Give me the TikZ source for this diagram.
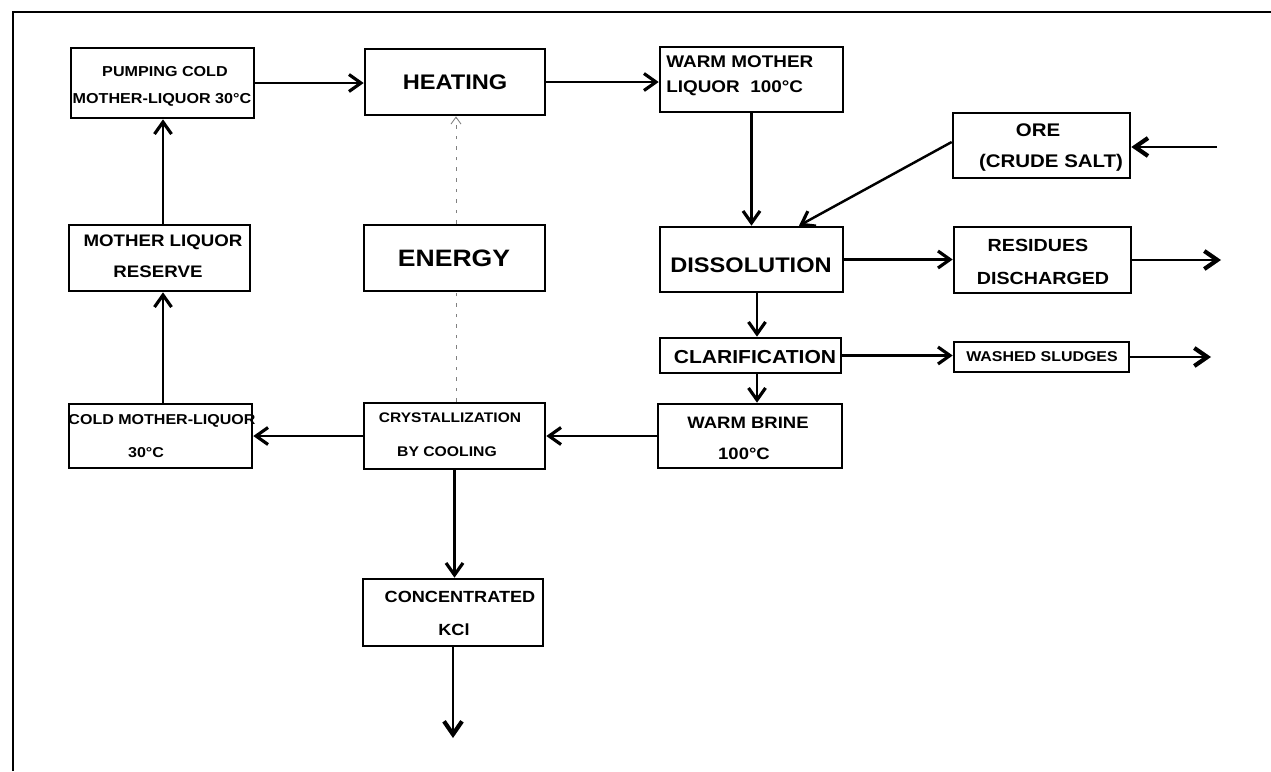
\documentclass[tikz,border=0pt]{standalone}
\usepackage{fontspec}
\setmainfont{Liberation Sans}[FakeStretch=1.12]
\usetikzlibrary{arrows.meta}
\newcommand{\myfs}[1]{\fontsize{#1}{#1}\selectfont}
\begin{document}
\begin{tikzpicture}[x=0.02cm,y=-0.02cm,
  box/.style={draw, line width=1.5pt, inner sep=0pt, rectangle},
  txt/.style={inner sep=0pt, font=\bfseries},
  flow/.style={line width=1.4pt, -{Straight Barb[length=2.4mm,width=3.4mm,line width=1.8pt]}},
  outflow/.style={line width=1.5pt, -{Straight Barb[length=2.6mm,width=3.6mm,line width=2.4pt]}},
  energyline/.style={line width=0.5pt, gray, dash pattern=on 2pt off 4pt}]
\useasboundingbox (0,0) rectangle (1271,771);
% frame
\draw[line width=0.9pt] (13,771) -- (13,12) -- (1271,12);
% boxes
\node[box, minimum width=3.66cm, minimum height=1.4cm] (pump) at (162.5,83) {};
\node[box, minimum width=3.6cm, minimum height=1.32cm] (heat) at (455,82) {};
\node[box, minimum width=3.66cm, minimum height=1.3cm] (warm) at (751.5,79.5) {};
\node[box, minimum width=3.54cm, minimum height=1.3cm] (ore) at (1041.5,145.5) {};
\node[box, minimum width=3.66cm, minimum height=1.3cm] (diss) at (751.5,259.5) {};
\node[box, minimum width=3.54cm, minimum height=1.32cm] (resid) at (1042.5,260) {};
\node[box, minimum width=3.62cm, minimum height=0.7cm] (clar) at (750.5,355.5) {};
\node[box, minimum width=3.5cm, minimum height=0.6cm] (wash) at (1041.5,357) {};
\node[box, minimum width=3.68cm, minimum height=1.28cm] (brine) at (750,436) {};
\node[box, minimum width=3.62cm, minimum height=1.32cm] (reserve) at (159.5,258) {};
\node[box, minimum width=3.62cm, minimum height=1.32cm] (energy) at (454.5,258) {};
\node[box, minimum width=3.66cm, minimum height=1.28cm] (cold) at (160.5,436) {};
\node[box, minimum width=3.62cm, minimum height=1.32cm] (cryst) at (454.5,436) {};
\node[box, minimum width=3.6cm, minimum height=1.34cm] (kcl) at (453,612.5) {};
% texts
\node[txt] (tpump1) at (165,72) {\myfs{8.2}PUMPING COLD};
\node[txt] (tpump2) at (162,100) {\myfs{8.2}MOTHER-LIQUOR 30°C};
\node[txt] (theat) at (455,82) {\myfs{12}HEATING};
\node[txt, anchor=west] (twarm1) at (666,62) {\myfs{9.6}WARM MOTHER};
\node[txt, anchor=west] (twarm2) at (666,88) {\myfs{9.6}LIQUOR\ \ 100°C};
\node[txt] (tore1) at (1038,130) {\myfs{10.4}ORE};
\node[txt] (tore2) at (1051,163) {\myfs{10.4}(CRUDE SALT)};
\node[txt] (tdiss) at (751,265) {\myfs{12}DISSOLUTION};
\node[txt] (tres1) at (1038,245) {\myfs{10}RESIDUES};
\node[txt] (tres2) at (1043,278) {\myfs{10}DISCHARGED};
\node[txt] (tclar) at (755,357) {\myfs{10.7}CLARIFICATION};
\node[txt] (twash) at (1042,357) {\myfs{8.1}WASHED SLUDGES};
\node[txt] (tbrine1) at (748,423) {\myfs{9.4}WARM BRINE};
\node[txt] (tbrine2) at (744,454) {\myfs{9.4}100°C};
\node[txt] (tres3) at (163,242) {\myfs{9.5}MOTHER LIQUOR};
\node[txt] (tres4) at (158,272) {\myfs{9.5}RESERVE};
\node[txt] (tenergy) at (454,258) {\myfs{13.5}ENERGY};
\node[txt] (tcold1) at (162,421) {\myfs{8.15}COLD MOTHER-LIQUOR};
\node[txt] (tcold2) at (146,453) {\myfs{8.15}30°C};
\node[txt] (tcry1) at (450,418) {\myfs{7.9}CRYSTALLIZATION};
\node[txt] (tcry2) at (447,452) {\myfs{8}BY COOLING};
\node[txt] (tkcl1) at (460,597) {\myfs{9.2}CONCENTRATED};
\node[txt] (tkcl2) at (454,630) {\myfs{9.2}KCl};
% free ends
\coordinate (orein) at (1217,147);
\coordinate (residout) at (1221,260);
\coordinate (washout) at (1211,357);
\coordinate (kclout) at (453,738);
% connectors
\draw[flow] (pump.east) -- (pump.east -| heat.west);
\draw[flow] (heat.east) -- (heat.east -| warm.west);
\draw[flow] (warm.south) -- (diss.north);
\draw[outflow] (orein) -- (orein -| ore.east);
\draw[flow] ([yshift=0.07cm]ore.west) -- ([xshift=0.95cm]diss.north);
\draw[flow] (diss.east) -- (diss.east -| resid.west);
\draw[outflow] (resid.east) -- (residout);
\draw[flow] ([xshift=0.11cm]diss.south) -- ([xshift=0.11cm]diss.south |- clar.north);
\draw[flow] (clar.east) -- (clar.east -| wash.west);
\draw[outflow] (wash.east) -- (washout);
\draw[flow] ([xshift=0.13cm]clar.south) -- ([xshift=0.13cm]clar.south |- brine.north);
\draw[flow] (brine.west) -- (brine.west -| cryst.east);
\draw[flow] (cryst.west) -- (cryst.west -| cold.east);
\draw[flow] ([xshift=0.05cm]cold.north) -- ([xshift=0.05cm]cold.north |- reserve.south);
\draw[flow] ([xshift=0.07cm]reserve.north) -- ([xshift=0.07cm]reserve.north |- pump.south);
\draw[flow] (cryst.south) -- (cryst.south |- kcl.north);
\draw[outflow] (kcl.south) -- (kclout);
\draw[energyline, -{Straight Barb[length=1.4mm,width=2mm]}] ([xshift=0.03cm]energy.north) -- ([xshift=0.03cm]energy.north |- heat.south);
\draw[energyline] ([xshift=0.03cm]cryst.north) -- ([xshift=0.03cm]energy.south);
\end{tikzpicture}
\end{document}
